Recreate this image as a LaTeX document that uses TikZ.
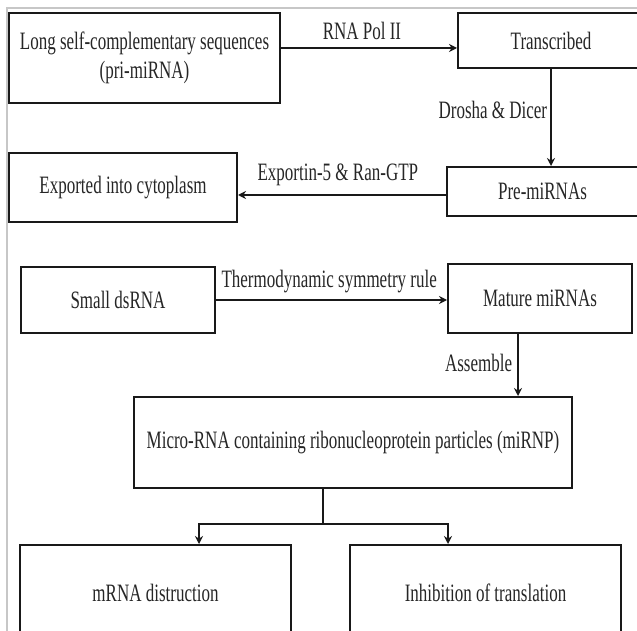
\documentclass[tikz,border=0pt]{standalone}
\usepackage{fontspec}
\setmainfont{Liberation Serif}[FakeStretch=0.68]
\usetikzlibrary{positioning,arrows.meta}

\begin{document}
\begin{tikzpicture}
    [x=1pt,y=-1pt,
     font=\fontsize{25}{29}\selectfont,
     box/.style={rectangle,draw=black!90,fill=white,line width=2pt,inner sep=0pt,
       align=center,text=black!85},
     arr/.style={-{Stealth[length=8pt,width=8pt]},line width=1.7pt,draw=black!90},
     lbl/.style={inner sep=0pt,text=black!85}]

    \useasboundingbox (0,0) rectangle (637,631);
    \draw[black!22,line width=1.2pt] (7,631) -- (7,8) -- (637,8);

    \node[box,minimum width=271pt,minimum height=90pt] (primirna) at (144.5,58)
      {Long self-complementary sequences\\(pri-miRNA)};

    \node[box,minimum width=186pt,minimum height=55pt] (transcribed) at (551,40.5) {Transcribed};

    \node[box,minimum width=191pt,minimum height=49pt] (premirna) at (542.5,191.5) {Pre-miRNAs};

    \node[box,minimum width=228pt,minimum height=69pt] (exported) at (123,187.5) {Exported into cytoplasm};

    \node[box,minimum width=194pt,minimum height=66pt] (smalldsrna) at (118,300) {Small dsRNA};

    \node[box,minimum width=184pt,minimum height=69pt] (mature) at (540,298.5) {Mature miRNAs};

    \node[box,minimum width=438pt,minimum height=91pt] (mirnp) at (353,442.5)
      {Micro-RNA containing ribonucleoprotein particles (miRNP)};

    \node[box,minimum width=271pt,minimum height=96pt] (degrade) at (155.5,593) {mRNA distruction};

    \node[box,minimum width=271pt,minimum height=96pt] (inhibit) at (485.5,593) {Inhibition of translation};

    \draw[arr] ([yshift=10pt]primirna.east) -- ([yshift=10pt]primirna.east -| transcribed.west)
      node[lbl,pos=0.46,above=7pt] {RNA Pol II};

    \draw[arr] (transcribed.south) -- (transcribed.south |- premirna.north)
      node[lbl,pos=0.42,left=3pt] {Drosha \& Dicer};

    \draw[arr] ([yshift=-3.5pt]premirna.west) -- ([yshift=-3.5pt]premirna.west -| exported.east)
      node[lbl,pos=0.52,above=8pt] {Exportin-5 \& Ran-GTP};

    \draw[arr] (smalldsrna.east) -- (smalldsrna.east -| mature.west)
      node[lbl,pos=0.49,above=6pt] {Thermodynamic symmetry rule};

    \draw[arr] ([xshift=-22pt]mature.south) -- ([xshift=-22pt]mature.south |- mirnp.north)
      node[lbl,pos=0.47,left=5pt] {Assemble};

    \coordinate (split) at (323,524);
    \draw[line width=1.7pt,draw=black!90] (mirnp.south -| split) -- (split);
    \draw[arr] (split) -| ([xshift=43.5pt]degrade.north);
    \draw[arr] (split) -| ([xshift=-37.5pt]inhibit.north);
  \end{tikzpicture}
\end{document}
